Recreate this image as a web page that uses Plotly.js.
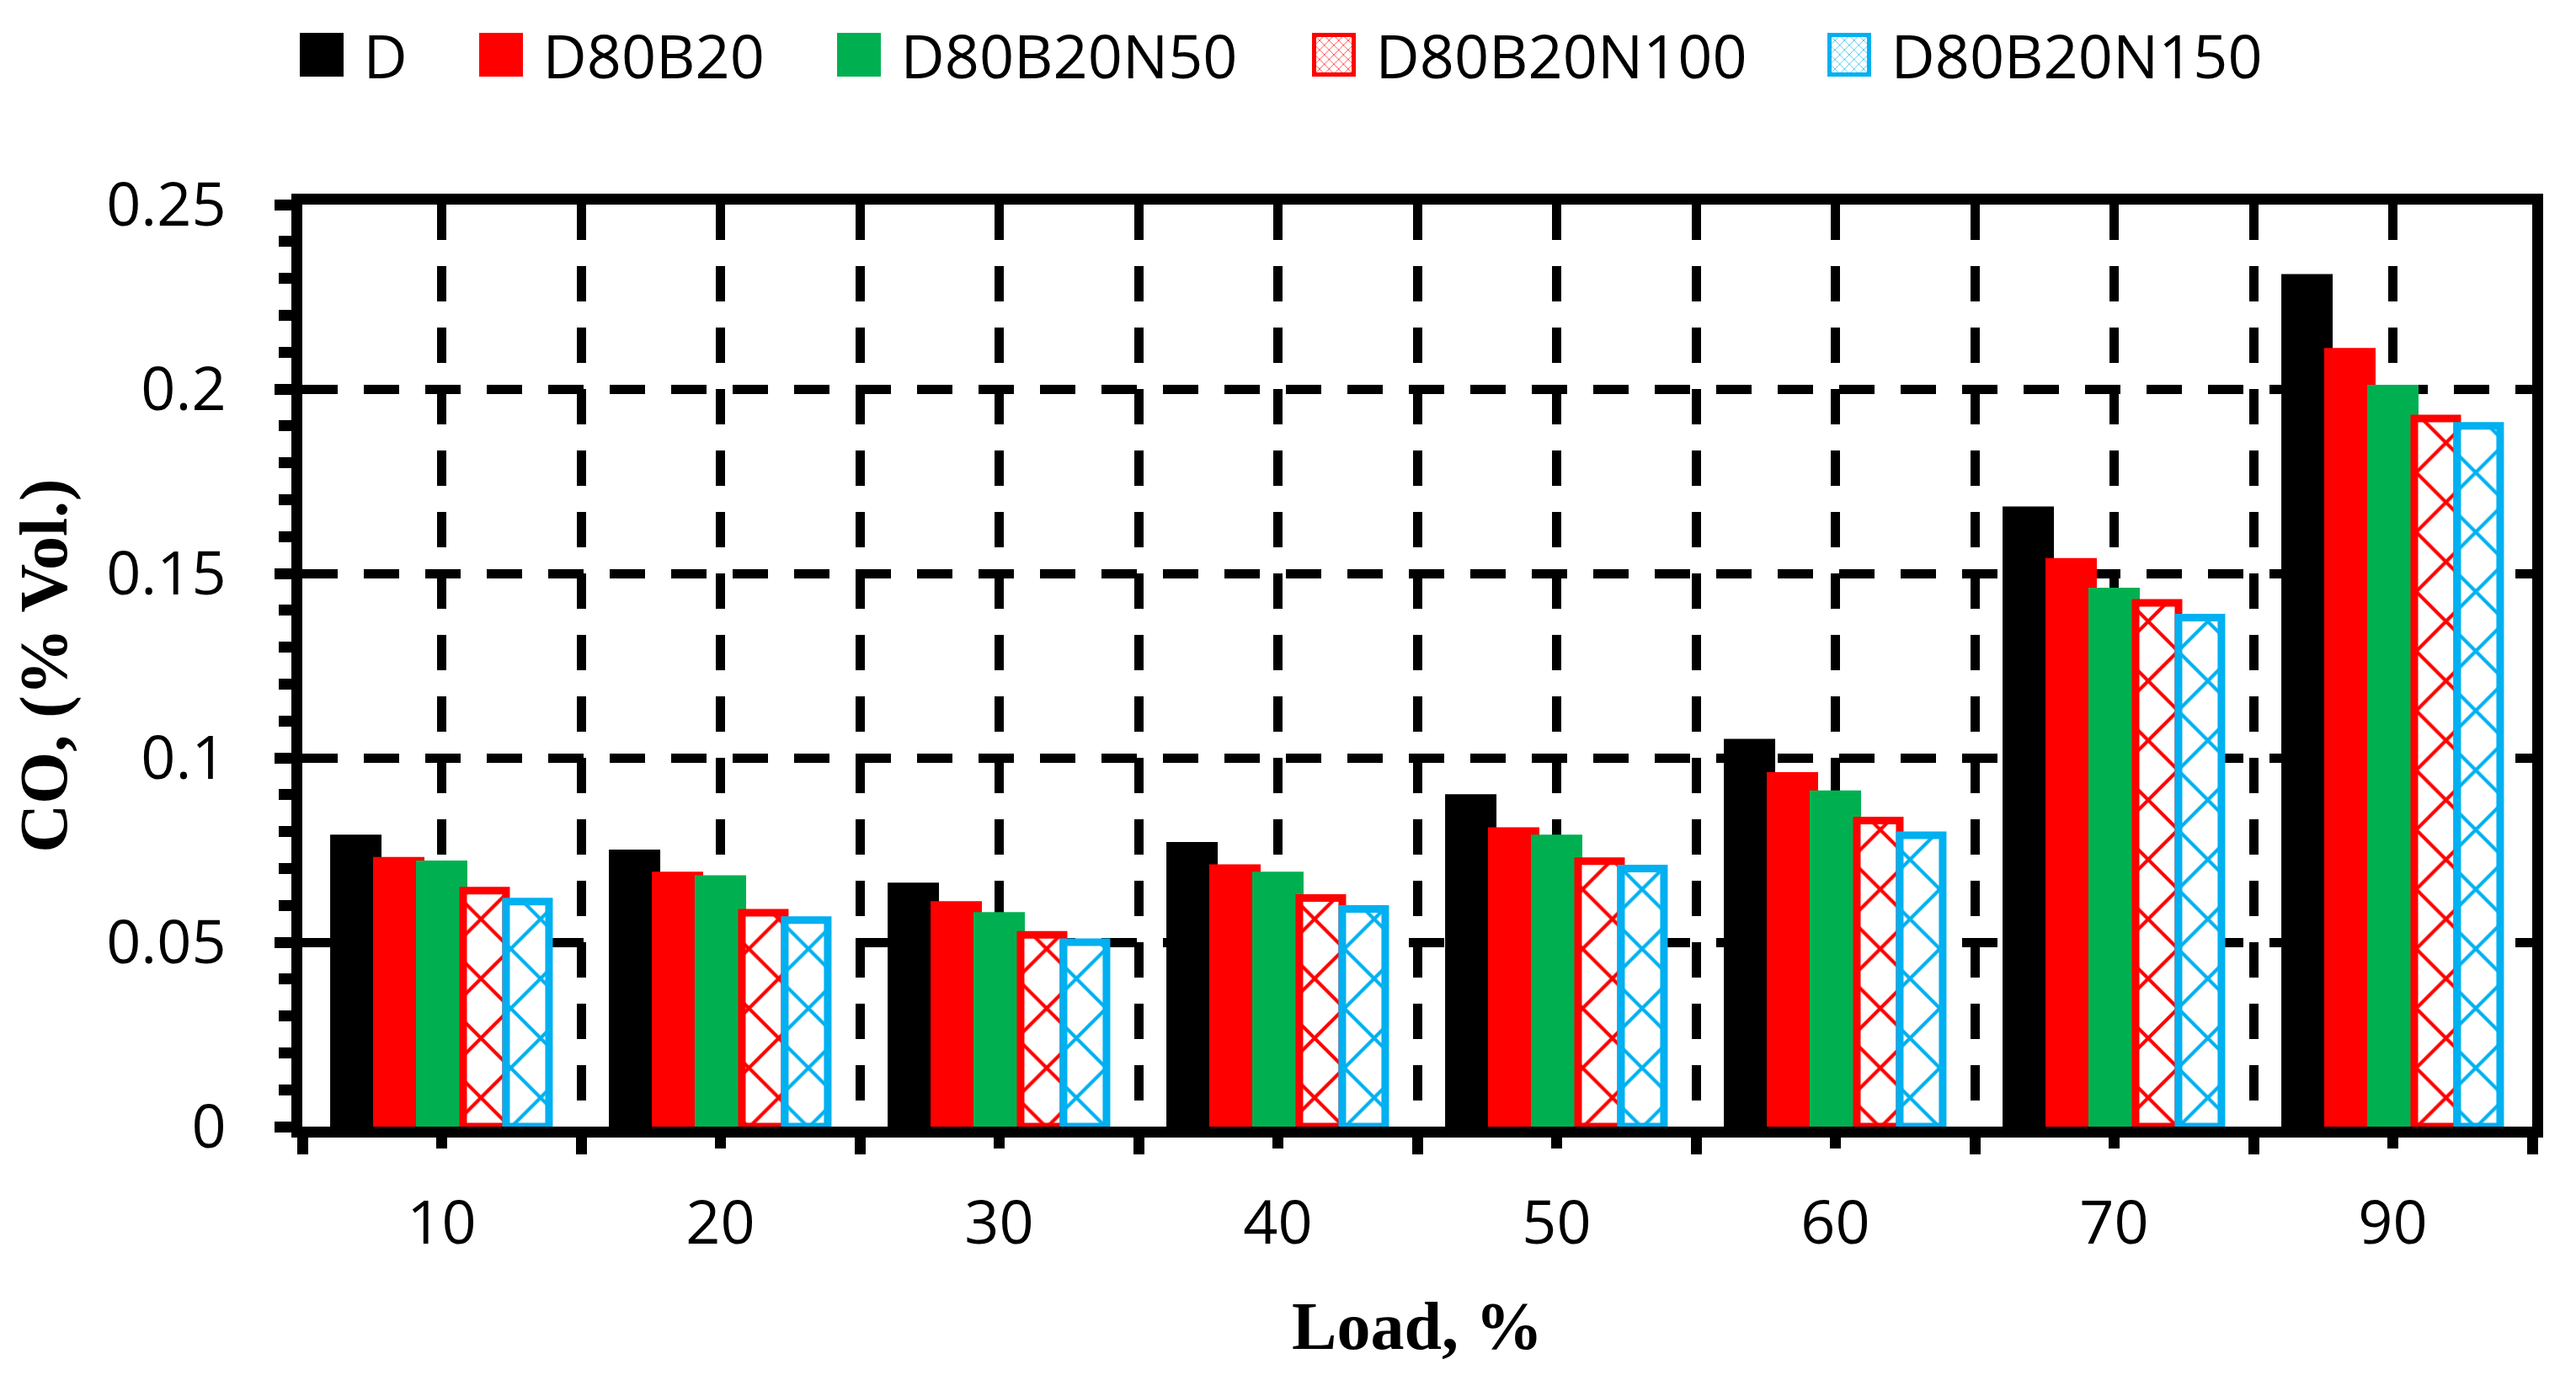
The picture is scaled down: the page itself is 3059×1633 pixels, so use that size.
<!DOCTYPE html>
<html>
<head>
<meta charset="utf-8">
<script src="https://cdn.plot.ly/plotly-3.0.1.min.js"></script>
<style>
html, body { margin: 0; padding: 0; background: #ffffff; }
</style>
</head>
<body>
<div id="chart" style="width:3059px;height:1633px"></div>
<script>
// engine load, %
const loads = ["10", "20", "30", "40", "50", "60", "70", "90"];

// CO, % vol.
const co_d          = [0.078, 0.074, 0.065, 0.076, 0.089, 0.104, 0.167, 0.230];
const co_d80b20     = [0.072, 0.068, 0.060, 0.070, 0.080, 0.095, 0.153, 0.210];
const co_d80b20n50  = [0.071, 0.067, 0.057, 0.068, 0.078, 0.090, 0.145, 0.200];
const co_d80b20n100 = [0.064, 0.058, 0.052, 0.062, 0.072, 0.083, 0.142, 0.192];
const co_d80b20n150 = [0.061, 0.056, 0.050, 0.059, 0.070, 0.079, 0.138, 0.190];

const names = ["D", "D80B20", "D80B20N50", "D80B20N100", "D80B20N150"];

const plot_l = 359, plot_r = 52, plot_t = 236, plot_b = 295;
const plot_w = 3059 - plot_l - plot_r;
const plot_h = 1633 - plot_t - plot_b;
const dash = "42px,31px";

// legend swatch centres (px from the left of the page)
const legend_x = [382, 595, 1020, 1584, 2196];

// one slot per load; gridlines/ticks sit on slot centres and slot edges
let slots = [], edges = [];
for (let i = 0; i < loads.length; i++) slots.push(i);
for (let i = 0; i <= loads.length; i++) edges.push(i - 0.5);

function solidBar(name, y, color, legend) {
    return {
        type: "bar", name: name, x: slots, y: y, legend: legend,
        marker: { color: color, line: { color: color, width: 10 } },
        hoverinfo: "skip"
    };
}

function hatchBar(name, y, color, legend) {
    return {
        type: "bar", name: name, x: slots, y: y, legend: legend,
        marker: {
            color: "#ffffff",
            line: { color: color, width: 9 },
            pattern: { shape: "x", fgcolor: color, bgcolor: "#ffffff", size: 50, solidity: 0.16, fillmode: "replace" }
        },
        hoverinfo: "skip"
    };
}

let data = [
    solidBar(names[0], co_d, "#000000", "legend"),
    solidBar(names[1], co_d80b20, "#ff0000", "legend2"),
    solidBar(names[2], co_d80b20n50, "#00b050", "legend3"),
    hatchBar(names[3], co_d80b20n100, "#ff0000", "legend4"),
    hatchBar(names[4], co_d80b20n150, "#00b0f0", "legend5")
];

function legendAt(cx) {
    return {
        orientation: "h",
        x: (cx - 49.5 - plot_l) / plot_w, xanchor: "left",
        y: 1 + (plot_t - 57) / plot_h, yanchor: "middle",
        itemwidth: 89,
        font: { family: "Open Sans", size: 72, color: "#000000" },
        bgcolor: "rgba(0,0,0,0)",
        itemclick: false, itemdoubleclick: false
    };
}

const serifTitle = { family: "Liberation Serif", size: 80, color: "#000000", weight: "bold" };

let layout = {
    width: 3059,
    height: 1633,
    margin: { l: plot_l, r: plot_r, t: plot_t, b: plot_b },
    paper_bgcolor: "#ffffff",
    plot_bgcolor: "#ffffff",
    font: { family: "Open Sans", size: 72, color: "#000000" },
    barmode: "group",
    bargap: 0.23,
    bargroupgap: 0,
    showlegend: true,
    legend: legendAt(legend_x[0]),
    legend2: legendAt(legend_x[1]),
    legend3: legendAt(legend_x[2]),
    legend4: legendAt(legend_x[3]),
    legend5: legendAt(legend_x[4]),
    xaxis: {
        range: [-0.5, loads.length - 0.5],
        tickmode: "array", tickvals: slots, ticktext: loads,
        showline: true, linewidth: 13, linecolor: "#000000", mirror: true,
        ticks: "outside", ticklen: 13, tickwidth: 13, tickcolor: "#000000",
        showgrid: true, gridcolor: "#000000", gridwidth: 11, griddash: dash,
        zeroline: false,
        minor: {
            tickmode: "array", tickvals: edges,
            ticks: "outside", ticklen: 20, tickwidth: 13, tickcolor: "#000000",
            showgrid: true, gridcolor: "#000000", gridwidth: 11, griddash: dash
        },
        tickfont: { family: "Open Sans", size: 72, color: "#000000" },
        ticklabelstandoff: 27,
        title: { text: "Load, %", font: serifTitle, standoff: 54 },
        fixedrange: true
    },
    yaxis: {
        range: [0, 0.25], tick0: 0, dtick: 0.05,
        showline: true, linewidth: 13, linecolor: "#000000", mirror: true,
        ticks: "outside", ticklen: 20, tickwidth: 13, tickcolor: "#000000",
        showgrid: true, gridcolor: "#000000", gridwidth: 11, griddash: dash,
        zeroline: false,
        minor: { dtick: 0.01, ticks: "outside", ticklen: 15, tickwidth: 13, tickcolor: "#000000", showgrid: false },
        tickfont: { family: "Open Sans", size: 72, color: "#000000" },
        ticklabelstandoff: 43,
        title: { text: "CO, (% Vol.)", font: serifTitle, standoff: 26 },
        fixedrange: true
    }
};

function bigSwatches() {
    // plotly's bar legend glyph is 12px, the original uses ~47px squares
    document.querySelectorAll("#chart .legendpoints path").forEach(p => {
        p.setAttribute("d", "M23.5,23.5H-23.5V-23.5H23.5Z");
    });
}

Plotly.newPlot("chart", data, layout, { staticPlot: true }).then(bigSwatches);
</script>
</body>
</html>
